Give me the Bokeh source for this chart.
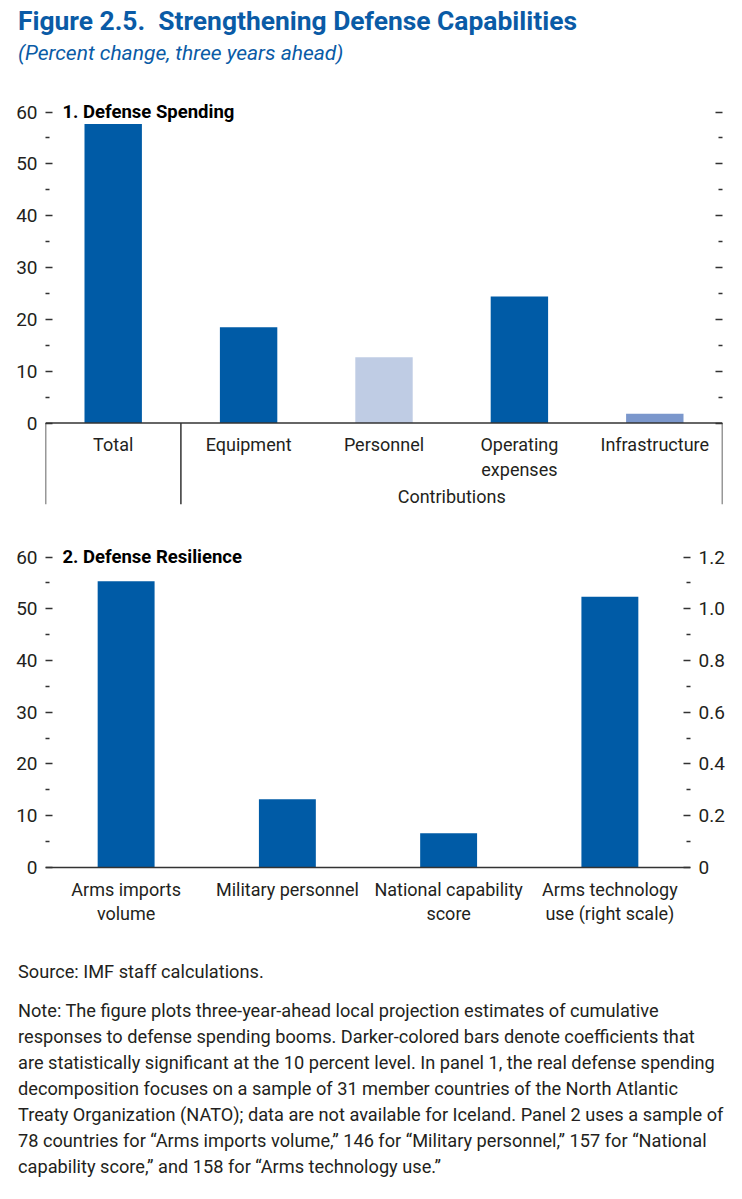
from bokeh.plotting import figure
from bokeh.models import Range1d, LinearAxis, FixedTicker, Span, Div
from bokeh.layouts import column
from bokeh.embed import file_html
from bokeh.resources import INLINE
from bokeh.core.properties import value
import numpy as np

# ---------------- data ----------------
title_text = "Figure 2.5.  Strengthening Defense Capabilities"
subtitle_text = "(Percent change, three years ahead)"

p1_title = "1. Defense Spending"
p1_categories = ["Total", "Equipment", "Personnel", "Operating\nexpenses", "Infrastructure"]
p1_values = [57.7, 18.5, 12.7, 24.4, 1.8]
p1_group_label = "Contributions"

p2_title = "2. Defense Resilience"
p2_categories = ["Arms imports\nvolume", "Military personnel", "National capability\nscore",
                 "Arms technology\nuse (right scale)"]
p2_values_left = [55.3, 13.2, 6.6]
p2_values_right = [1.046]

left_ticks = [0, 10, 20, 30, 40, 50, 60]
left_minor = [5, 15, 25, 35, 45, 55]
right_ticks = [0, 0.2, 0.4, 0.6, 0.8, 1.0, 1.2]
right_minor = [0.1, 0.3, 0.5, 0.7, 0.9, 1.1]
right_labels = ["0", "0.2", "0.4", "0.6", "0.8", "1.0", "1.2"]

source_line = "Source: IMF staff calculations."
notes_lines = [
    "Note: The figure plots three-year-ahead local projection estimates of cumulative",
    "responses to defense spending booms. Darker-colored bars denote coefficients that",
    "are statistically significant at the 10 percent level. In panel 1, the real defense spending",
    "decomposition focuses on a sample of 31 member countries of the North Atlantic",
    "Treaty Organization (NATO); data are not available for Iceland. Panel 2 uses a sample of",
    "78 countries for \u201cArms imports volume,\u201d 146 for \u201cMilitary personnel,\u201d 157 for \u201cNational",
    "capability score,\u201d and 158 for \u201cArms technology use.\u201d",
]

# ---------------- styles ----------------
FONT = "Roboto"
DARK = "#005ba6"
LIGHT = "#bfcce4"
MED = "#7b97cc"
TITLE_BLUE = "#0a5ba6"
INK = "#231f20"
LINE = "#333333"
p1_colors = [DARK, DARK, LIGHT, DARK, MED]
TICK_FS = "19px"
CAT_FS = "18px"
PT_FS = "18.5px"

W = 726
Y_TOP = 63  # a little headroom above the 60 tick for the panel titles


def style_axis(ax, ticks, minor):
    ax.ticker = FixedTicker(ticks=ticks, minor_ticks=minor)
    ax.axis_line_color = None
    ax.major_tick_line_color = LINE
    ax.minor_tick_line_color = LINE
    ax.major_tick_line_width = 1.3
    ax.minor_tick_line_width = 1.3
    ax.major_tick_in = 7
    ax.major_tick_out = 0
    ax.minor_tick_in = 4
    ax.minor_tick_out = 0
    ax.major_label_standoff = 8
    ax.major_label_text_font = FONT
    ax.major_label_text_font_size = TICK_FS
    ax.major_label_text_color = INK


def draw_cat_labels(p, cats, first, step):
    xs, ys, offs, txt = [], [], [], []
    for i, c in enumerate(cats):
        for j, line in enumerate(c.split("\n")):
            xs.append(i + 0.5)
            ys.append(0)
            offs.append(first + j * step)
            txt.append(line)
    p.text(x=xs, y=ys, text=txt, y_offset=offs, text_align="center", text_baseline="middle",
           text_font=value(FONT), text_font_size=CAT_FS, text_color=INK)


# ---------------- header ----------------
hdr_html = (
    f'<div style="font-family:{FONT};color:{TITLE_BLUE};white-space:nowrap;padding-left:18px;margin:0;">'
    f'<div style="margin-top:6px;font-weight:bold;font-size:26.4px;line-height:30px;">'
    f'{title_text.replace("  ", "&nbsp; ")}</div>'
    f'<div style="margin-top:4px;font-style:italic;font-size:21px;line-height:26px;">{subtitle_text}</div>'
    f'</div>'
)
hdr = Div(text=hdr_html, width=W, height=95, styles={"margin": "0", "padding": "0"})

# ---------------- panel 1 ----------------
n1 = len(p1_categories)
x1 = np.arange(n1) + 0.5
y1min = -15.7
p1 = figure(frame_width=677, frame_height=408, x_range=Range1d(0, n1), y_range=Range1d(y1min, Y_TOP),
            output_backend="svg", toolbar_location=None, x_axis_location=None,
            min_border_left=45, min_border_right=4, min_border_top=1, min_border_bottom=8)
p1.grid.visible = False
p1.outline_line_color = None
p1.vbar(x=x1, top=p1_values, width=0.424, color=p1_colors, line_color=None)
style_axis(p1.yaxis[0], left_ticks, left_minor)
r1 = LinearAxis()
style_axis(r1, left_ticks, left_minor)
r1.major_label_overrides = {t: "" for t in left_ticks}
r1.major_label_standoff = 0
p1.add_layout(r1, "right")
p1.add_layout(Span(location=0, dimension="width", line_color=LINE, line_width=1.5))
p1.segment(x0=[0, 1, n1], x1=[0, 1, n1], y0=[0, 0, 0], y1=[y1min] * 3,
           line_color=LINE, line_width=1.5)
draw_cat_labels(p1, p1_categories, 21, 25)
p1.text(x=[(1 + n1) / 2], y=[0], text=[p1_group_label], y_offset=[73], text_align="center",
        text_baseline="middle", text_font=value(FONT), text_font_size=CAT_FS, text_color=INK)
p1.text(x=[0], y=[60], text=[p1_title], x_offset=17, text_baseline="middle", text_font=value(FONT),
        text_font_style="bold", text_font_size=PT_FS, text_color="#000000")

# ---------------- panel 2 ----------------
n2 = len(p2_categories)
x2 = np.arange(n2) + 0.5
y2min = -12.19
p2 = figure(frame_width=645, frame_height=389, x_range=Range1d(0, n2), y_range=Range1d(y2min, Y_TOP),
            output_backend="svg", toolbar_location=None, x_axis_location=None,
            min_border_left=45, min_border_right=36, min_border_top=29, min_border_bottom=5)
p2.grid.visible = False
p2.outline_line_color = None
p2.extra_y_ranges = {"right": Range1d(y2min * 1.2 / 60, Y_TOP * 1.2 / 60)}
nl = len(p2_values_left)
p2.vbar(x=x2[:nl], top=p2_values_left, width=0.353, color=DARK, line_color=None)
p2.vbar(x=x2[nl:], top=p2_values_right, width=0.353, color=DARK, line_color=None, y_range_name="right")
style_axis(p2.yaxis[0], left_ticks, left_minor)
r2 = LinearAxis(y_range_name="right")
style_axis(r2, right_ticks, right_minor)
r2.major_label_overrides = {t: s for t, s in zip(right_ticks, right_labels)}
p2.add_layout(r2, "right")
p2.add_layout(Span(location=0, dimension="width", line_color=LINE, line_width=1.5))
draw_cat_labels(p2, p2_categories, 22, 24)
p2.text(x=[0], y=[60], text=[p2_title], x_offset=17, text_baseline="middle", text_font=value(FONT),
        text_font_style="bold", text_font_size=PT_FS, text_color="#000000")

# ---------------- notes ----------------
notes_html = (
    f'<div style="font-family:{FONT};color:{INK};font-size:18.2px;line-height:26px;'
    f'white-space:nowrap;padding-left:18px;margin:0;">'
    f'<div style="margin-top:24px;">{source_line}</div>'
    f'<div style="margin-top:13px;">{"<br>".join(notes_lines)}</div>'
    f'</div>'
)
nt = Div(text=notes_html, width=W, height=250, styles={"margin": "0", "padding": "0"})

layout = column(hdr, p1, p2, nt, spacing=0)
open("out.html", "w").write(file_html(layout, INLINE))
